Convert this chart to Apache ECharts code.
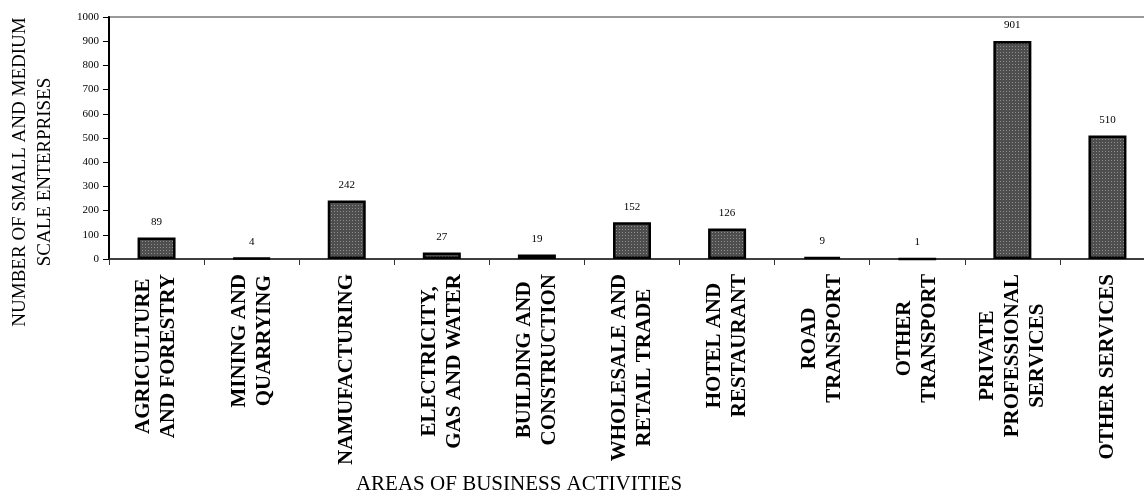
<!DOCTYPE html>
<html>
<head>
<meta charset="utf-8">
<script src="https://cdn.jsdelivr.net/npm/echarts@6/dist/echarts.min.js"></script>
<style>
html,body{margin:0;padding:0;background:#fff;}
#chart{width:1144px;height:495px;}
</style>
</head>
<body>
<div id="chart"></div>
<script>
var categories = [
  "AGRICULTURE\nAND FORESTRY",
  "MINING AND\nQUARRYING",
  "NAMUFACTURING",
  "ELECTRICITY,\nGAS AND WATER",
  "BUILDING AND\nCONSTRUCTION",
  "WHOLESALE AND\nRETAIL TRADE",
  "HOTEL AND\nRESTAURANT",
  "ROAD\nTRANSPORT",
  "OTHER\nTRANSPORT",
  "PRIVATE\nPROFESSIONAL\nSERVICES",
  "OTHER SERVICES"
];
var enterprises = [89, 4, 242, 27, 19, 152, 126, 9, 1, 901, 510];
var yTicks = [0, 100, 200, 300, 400, 500, 600, 700, 800, 900, 1000];
var yAxisTitle = "NUMBER OF SMALL AND MEDIUM\nSCALE ENTERPRISES";
var xAxisTitle = "AREAS OF BUSINESS ACTIVITIES";

var SERIF = "'Liberation Serif', 'Times New Roman', 'DejaVu Serif', serif";

function makePattern() {
  var c = document.createElement('canvas');
  c.width = 3; c.height = 3;
  var ctx = c.getContext('2d');
  ctx.fillStyle = '#4e4e4e';
  ctx.fillRect(0, 0, 3, 3);
  ctx.fillStyle = '#8e8e8e';
  ctx.fillRect(1, 1, 1, 1);
  return c;
}

var chart = echarts.init(document.getElementById('chart'), null, {renderer: 'canvas'});
var option = {
  animation: false,
  backgroundColor: '#ffffff',
  grid: {
    left: 109, top: 17, bottom: 236, right: -11,
    containLabel: false,
    outerBoundsMode: 'none',
    show: true, borderColor: '#9a9a9a', borderWidth: 2, backgroundColor: 'transparent'
  },
  xAxis: {
    type: 'category',
    data: categories,
    name: xAxisTitle,
    nameLocation: 'middle',
    nameGap: 215,
    nameTextStyle: {fontFamily: SERIF, fontSize: 21, color: '#000', padding: [0, 226, 0, 0]},
    axisLine: {lineStyle: {color: '#222', width: 1.5}},
    axisTick: {show: true, length: 6, lineStyle: {color: '#333', width: 1}},
    axisLabel: {
      interval: 0,
      rotate: 90,
      margin: 15,
      formatter: function (v) {
        return v.split('\n').map(function (l) { return '{c|' + l + '}'; }).join('\n');
      },
      rich: {
        c: {align: 'center', fontFamily: SERIF, fontWeight: 'bold', fontSize: 21, lineHeight: 25, color: '#000'}
      }
    }
  },
  yAxis: {
    type: 'value',
    min: 0, max: 1000, interval: 100,
    name: yAxisTitle,
    nameLocation: 'middle',
    nameGap: 51,
    nameRotate: 90,
    nameTextStyle: {fontFamily: SERIF, fontSize: 19, lineHeight: 25, color: '#000', padding: [0, 68, 0, 0]},
    axisLine: {show: true, lineStyle: {color: '#000', width: 2}},
    axisTick: {show: true, length: 6, lineStyle: {color: '#000', width: 1}},
    splitLine: {show: false},
    axisLabel: {
      margin: 10,
      fontFamily: SERIF, fontSize: 11, color: '#000',
      formatter: function (v) { return yTicks.indexOf(v) >= 0 ? String(v) : ''; }
    }
  },
  series: [{
    type: 'bar',
    data: enterprises,
    barWidth: 38,
    itemStyle: {
      color: {image: makePattern(), repeat: 'repeat'},
      borderColor: '#000',
      borderWidth: 2.5
    },
    label: {
      show: true, position: 'top', distance: 10,
      fontFamily: SERIF, fontSize: 11, color: '#000'
    }
  }]
};
chart.setOption(option);
</script>
</body>
</html>
